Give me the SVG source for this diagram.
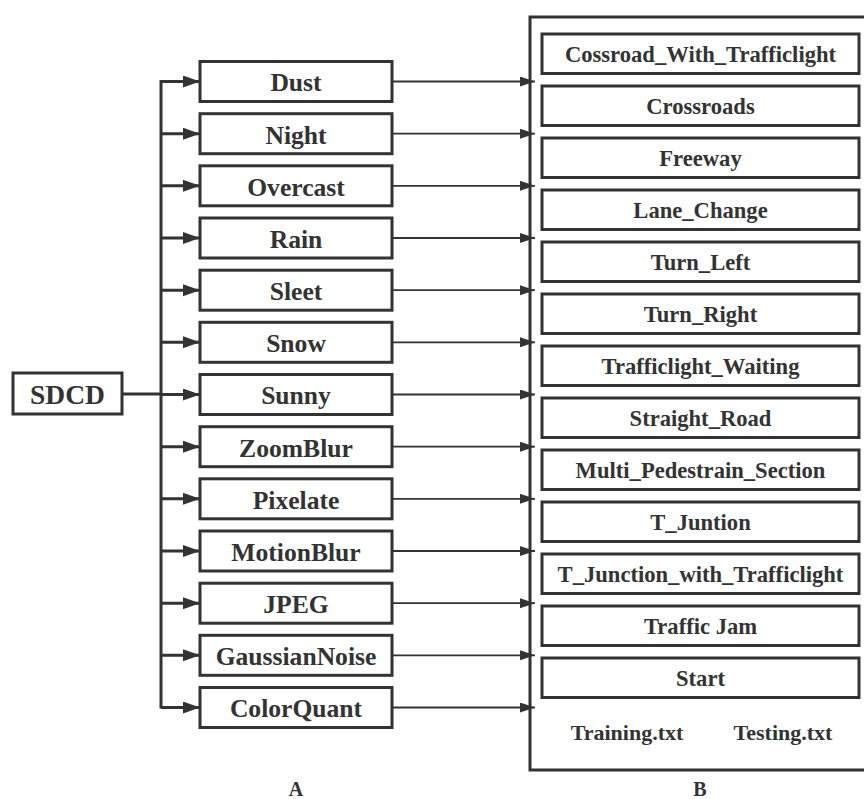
<svg xmlns="http://www.w3.org/2000/svg" width="864" height="799" viewBox="0 0 864 799">
<style>
.bx{fill:#fff;stroke:#333;stroke-width:3}
.t{font-family:'Liberation Serif','Times New Roman','DejaVu Serif',serif;font-weight:700;fill:#333;text-anchor:middle}
.tl{font-size:25.6px}
.tr{font-size:22.6px}
.thick{stroke:#333;stroke-width:3;fill:none}
.thin{stroke:#333;stroke-width:1.8;fill:none}
</style>
<defs>
<marker id="ah" markerUnits="userSpaceOnUse" markerWidth="18" markerHeight="14" refX="17" refY="6" orient="auto"><path d="M0,0 L17,6 L0,12 Z" fill="#333"/></marker>
<marker id="ahs" markerUnits="userSpaceOnUse" markerWidth="16" markerHeight="12" refX="15" refY="5" orient="auto"><path d="M0,0 L15,5 L0,10 Z" fill="#333"/></marker>
</defs>
<rect x="0" y="0" width="864" height="799" fill="#fff"/>

<g id="group-B">
<rect class="bx" x="530" y="17" width="400" height="753"/>
</g>

<g id="connectors">
<line class="thick" x1="122" y1="394" x2="161" y2="394"/>
<line class="thick" x1="161" y1="80" x2="161" y2="708.5"/>
<line class="thick" x1="161" y1="81.5" x2="200" y2="81.5" marker-end="url(#ah)"/>
<line class="thick" x1="161" y1="133.7" x2="200" y2="133.7" marker-end="url(#ah)"/>
<line class="thick" x1="161" y1="185.8" x2="200" y2="185.8" marker-end="url(#ah)"/>
<line class="thick" x1="161" y1="238" x2="200" y2="238" marker-end="url(#ah)"/>
<line class="thick" x1="161" y1="290.2" x2="200" y2="290.2" marker-end="url(#ah)"/>
<line class="thick" x1="161" y1="342.3" x2="200" y2="342.3" marker-end="url(#ah)"/>
<line class="thick" x1="161" y1="394.5" x2="200" y2="394.5" marker-end="url(#ah)"/>
<line class="thick" x1="161" y1="446.7" x2="200" y2="446.7" marker-end="url(#ah)"/>
<line class="thick" x1="161" y1="498.8" x2="200" y2="498.8" marker-end="url(#ah)"/>
<line class="thick" x1="161" y1="551" x2="200" y2="551" marker-end="url(#ah)"/>
<line class="thick" x1="161" y1="603.2" x2="200" y2="603.2" marker-end="url(#ah)"/>
<line class="thick" x1="161" y1="655.3" x2="200" y2="655.3" marker-end="url(#ah)"/>
<line class="thick" x1="161" y1="707.5" x2="200" y2="707.5" marker-end="url(#ah)"/>

<line class="thin" x1="392" y1="81.5" x2="535" y2="81.5" marker-end="url(#ahs)"/>
<line class="thin" x1="392" y1="133.7" x2="535" y2="133.7" marker-end="url(#ahs)"/>
<line class="thin" x1="392" y1="185.8" x2="535" y2="185.8" marker-end="url(#ahs)"/>
<line class="thin" x1="392" y1="238" x2="535" y2="238" marker-end="url(#ahs)"/>
<line class="thin" x1="392" y1="290.2" x2="535" y2="290.2" marker-end="url(#ahs)"/>
<line class="thin" x1="392" y1="342.3" x2="535" y2="342.3" marker-end="url(#ahs)"/>
<line class="thin" x1="392" y1="394.5" x2="535" y2="394.5" marker-end="url(#ahs)"/>
<line class="thin" x1="392" y1="446.7" x2="535" y2="446.7" marker-end="url(#ahs)"/>
<line class="thin" x1="392" y1="498.8" x2="535" y2="498.8" marker-end="url(#ahs)"/>
<line class="thin" x1="392" y1="551" x2="535" y2="551" marker-end="url(#ahs)"/>
<line class="thin" x1="392" y1="603.2" x2="535" y2="603.2" marker-end="url(#ahs)"/>
<line class="thin" x1="392" y1="655.3" x2="535" y2="655.3" marker-end="url(#ahs)"/>
<line class="thin" x1="392" y1="707.5" x2="535" y2="707.5" marker-end="url(#ahs)"/>
</g>

<g id="node-SDCD">
<rect class="bx" x="13" y="373" width="109" height="41"/>
<text class="t" x="67.5" y="404" font-size="27.5">SDCD</text>
</g>

<g id="node-Dust"><rect class="bx" x="200" y="61.5" width="192" height="40"/><text class="t tl" x="296" y="91.3">Dust</text></g>
<g id="node-Night"><rect class="bx" x="200" y="113.7" width="192" height="40"/><text class="t tl" x="296" y="143.5">Night</text></g>
<g id="node-Overcast"><rect class="bx" x="200" y="165.8" width="192" height="40"/><text class="t tl" x="296" y="195.6">Overcast</text></g>
<g id="node-Rain"><rect class="bx" x="200" y="218" width="192" height="40"/><text class="t tl" x="296" y="247.8">Rain</text></g>
<g id="node-Sleet"><rect class="bx" x="200" y="270.2" width="192" height="40"/><text class="t tl" x="296" y="300">Sleet</text></g>
<g id="node-Snow"><rect class="bx" x="200" y="322.3" width="192" height="40"/><text class="t tl" x="296" y="352.1">Snow</text></g>
<g id="node-Sunny"><rect class="bx" x="200" y="374.5" width="192" height="40"/><text class="t tl" x="296" y="404.3">Sunny</text></g>
<g id="node-ZoomBlur"><rect class="bx" x="200" y="426.7" width="192" height="40"/><text class="t tl" x="296" y="456.5">ZoomBlur</text></g>
<g id="node-Pixelate"><rect class="bx" x="200" y="478.8" width="192" height="40"/><text class="t tl" x="296" y="508.6">Pixelate</text></g>
<g id="node-MotionBlur"><rect class="bx" x="200" y="531" width="192" height="40"/><text class="t tl" x="296" y="560.8">MotionBlur</text></g>
<g id="node-JPEG"><rect class="bx" x="200" y="583.2" width="192" height="40"/><text class="t tl" x="296" y="613">JPEG</text></g>
<g id="node-GaussianNoise"><rect class="bx" x="200" y="635.3" width="192" height="40"/><text class="t tl" x="296" y="665.1">GaussianNoise</text></g>
<g id="node-ColorQuant"><rect class="bx" x="200" y="687.5" width="192" height="40"/><text class="t tl" x="296" y="717.3">ColorQuant</text></g>

<g id="node-r1"><rect class="bx" x="542" y="34" width="317" height="39.5"/><text class="t tr" x="700.5" y="61.5">Cossroad_With_Trafficlight</text></g>
<g id="node-r2"><rect class="bx" x="542" y="86" width="317" height="39.5"/><text class="t tr" x="700.5" y="113.5">Crossroads</text></g>
<g id="node-r3"><rect class="bx" x="542" y="138" width="317" height="39.5"/><text class="t tr" x="700.5" y="165.5">Freeway</text></g>
<g id="node-r4"><rect class="bx" x="542" y="190" width="317" height="39.5"/><text class="t tr" x="700.5" y="217.5">Lane_Change</text></g>
<g id="node-r5"><rect class="bx" x="542" y="242" width="317" height="39.5"/><text class="t tr" x="700.5" y="269.5">Turn_Left</text></g>
<g id="node-r6"><rect class="bx" x="542" y="294" width="317" height="39.5"/><text class="t tr" x="700.5" y="321.5">Turn_Right</text></g>
<g id="node-r7"><rect class="bx" x="542" y="346" width="317" height="39.5"/><text class="t tr" x="700.5" y="373.5">Trafficlight_Waiting</text></g>
<g id="node-r8"><rect class="bx" x="542" y="398" width="317" height="39.5"/><text class="t tr" x="700.5" y="425.5">Straight_Road</text></g>
<g id="node-r9"><rect class="bx" x="542" y="450" width="317" height="39.5"/><text class="t tr" x="700.5" y="477.5">Multi_Pedestrain_Section</text></g>
<g id="node-r10"><rect class="bx" x="542" y="502" width="317" height="39.5"/><text class="t tr" x="700.5" y="529.5">T_Juntion</text></g>
<g id="node-r11"><rect class="bx" x="542" y="554" width="317" height="39.5"/><text class="t tr" x="700.5" y="581.5">T_Junction_with_Trafficlight</text></g>
<g id="node-r12"><rect class="bx" x="542" y="606" width="317" height="39.5"/><text class="t tr" x="700.5" y="633.5">Traffic Jam</text></g>
<g id="node-r13"><rect class="bx" x="542" y="658" width="317" height="39.5"/><text class="t tr" x="700.5" y="685.5">Start</text></g>

<g id="files">
<text class="t" x="627" y="740" font-size="22">Training.txt</text>
<text class="t" x="783" y="740" font-size="22">Testing.txt</text>
</g>
<g id="labels">
<text class="t" x="296" y="796" font-size="20">A</text>
<text class="t" x="700" y="796" font-size="20">B</text>
</g>
</svg>
